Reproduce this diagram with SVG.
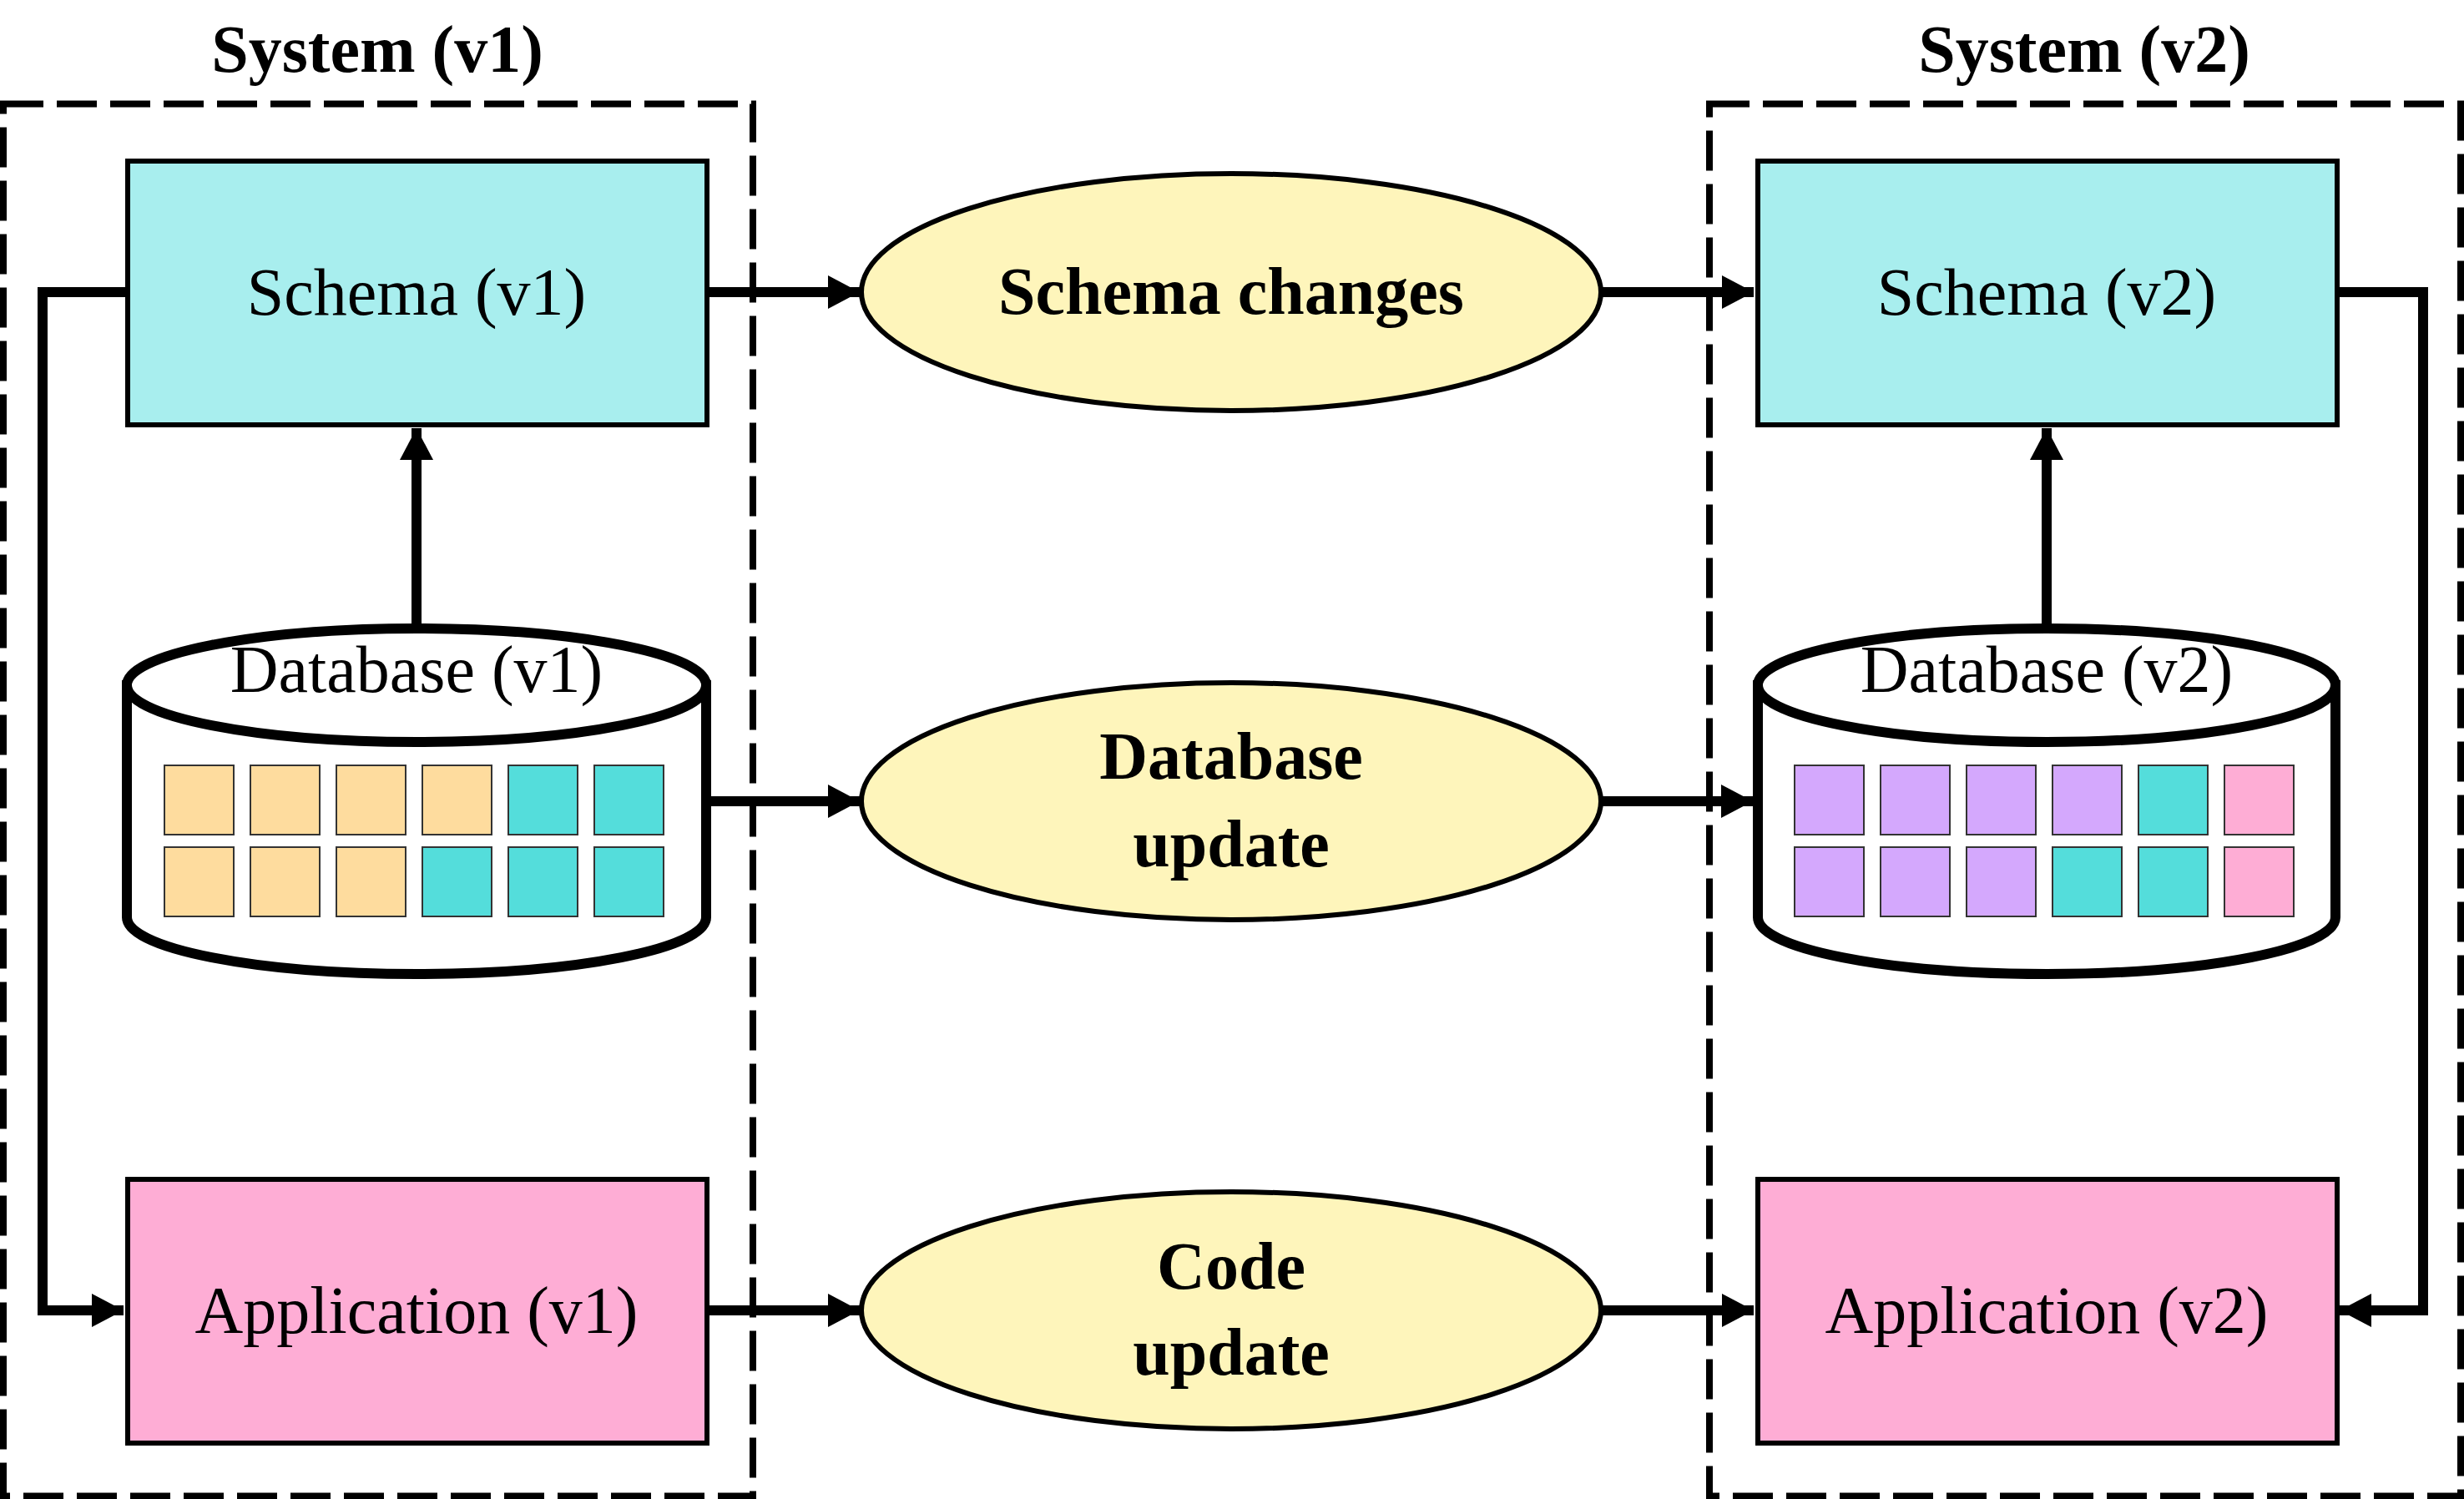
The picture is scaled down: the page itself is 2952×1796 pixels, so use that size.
<svg xmlns="http://www.w3.org/2000/svg" width="2952" height="1796" viewBox="0 0 2952 1796">
<defs>
<marker id="ah" markerUnits="userSpaceOnUse" markerWidth="38" markerHeight="40" viewBox="0 0 38 40" refX="38" refY="20" orient="auto">
<path d="M0,0 L38,20 L0,40 Z" fill="#000"/>
</marker>
</defs>
<style>
.bg{fill:#fff}
.sys{fill:none;stroke:#000;stroke-width:8;stroke-dasharray:48 16}
.title{font-family:"Liberation Serif",serif;font-weight:bold;font-size:80px;text-anchor:middle;fill:#000}
.lbl{font-family:"Liberation Serif",serif;font-size:80px;text-anchor:middle;fill:#000}
.blbl{font-family:"Liberation Serif",serif;font-weight:bold;font-size:80px;text-anchor:middle;fill:#000}
.schema{fill:#A8EEEE;stroke:#000;stroke-width:6}
.app{fill:#FEADD5;stroke:#000;stroke-width:6}
.proc{fill:#FEF5BB;stroke:#000;stroke-width:6}
.cyl{fill:#fff;stroke:#000;stroke-width:12}
.cell{stroke:#333;stroke-width:2}
.o{fill:#FEDC9E}
.t{fill:#54DDDB}
.u{fill:#D4A8FD}
.k{fill:#FEADD5}
.conn{fill:none;stroke:#000;stroke-width:12}
</style>
<rect class="bg" x="0" y="0" width="2952" height="1796"/>

<g id="system-v1">
<rect class="sys" x="4" y="124.5" width="898" height="1668"/>
<text class="title" x="452" y="86">System (v1)</text>
</g>
<g id="system-v2">
<rect class="sys" x="2048" y="124.5" width="900" height="1668"/>
<text class="title" x="2497" y="86">System (v2)</text>
</g>

<g id="connectors">
<path class="conn" d="M848,350 H1030" marker-end="url(#ah)"/>
<path class="conn" d="M1920,350 H2101" marker-end="url(#ah)"/>
<path class="conn" d="M850,960 H1030" marker-end="url(#ah)"/>
<path class="conn" d="M1920,960 H2100" marker-end="url(#ah)"/>
<path class="conn" d="M848,1570 H1030" marker-end="url(#ah)"/>
<path class="conn" d="M1920,1570 H2101" marker-end="url(#ah)"/>
<path class="conn" d="M152,350 H51 V1570 H148" marker-end="url(#ah)"/>
<path class="conn" d="M2800,350 H2903 V1570 H2803" marker-end="url(#ah)"/>
<path class="conn" d="M499,750 V513" marker-end="url(#ah)"/>
<path class="conn" d="M2452,750 V513" marker-end="url(#ah)"/>
</g>

<g id="schema-v1">
<rect class="schema" x="153" y="193" width="694" height="316"/>
<text class="lbl" x="499" y="377">Schema (v1)</text>
</g>
<g id="schema-v2">
<rect class="schema" x="2106" y="193" width="694" height="316"/>
<text class="lbl" x="2452" y="377">Schema (v2)</text>
</g>

<g id="database-v1">
<path class="cyl" d="M152,821 V1099 A347,68 0 0 0 846,1099 V821 Z"/>
<ellipse class="cyl" cx="499" cy="821" rx="347" ry="68"/>
<text class="lbl" x="499" y="829">Database (v1)</text>
<rect class="cell o" x="197" y="917" width="83" height="83"/>
<rect class="cell o" x="300" y="917" width="83" height="83"/>
<rect class="cell o" x="403" y="917" width="83" height="83"/>
<rect class="cell o" x="506" y="917" width="83" height="83"/>
<rect class="cell t" x="609" y="917" width="83" height="83"/>
<rect class="cell t" x="712" y="917" width="83" height="83"/>
<rect class="cell o" x="197" y="1015" width="83" height="83"/>
<rect class="cell o" x="300" y="1015" width="83" height="83"/>
<rect class="cell o" x="403" y="1015" width="83" height="83"/>
<rect class="cell t" x="506" y="1015" width="83" height="83"/>
<rect class="cell t" x="609" y="1015" width="83" height="83"/>
<rect class="cell t" x="712" y="1015" width="83" height="83"/>
</g>
<g id="database-v2">
<path class="cyl" d="M2106,821 V1099 A346,68 0 0 0 2798,1099 V821 Z"/>
<ellipse class="cyl" cx="2452" cy="821" rx="346" ry="68"/>
<text class="lbl" x="2452" y="829">Database (v2)</text>
<rect class="cell u" x="2150" y="917" width="83" height="83"/>
<rect class="cell u" x="2253" y="917" width="83" height="83"/>
<rect class="cell u" x="2356" y="917" width="83" height="83"/>
<rect class="cell u" x="2459" y="917" width="83" height="83"/>
<rect class="cell t" x="2562" y="917" width="83" height="83"/>
<rect class="cell k" x="2665" y="917" width="83" height="83"/>
<rect class="cell u" x="2150" y="1015" width="83" height="83"/>
<rect class="cell u" x="2253" y="1015" width="83" height="83"/>
<rect class="cell u" x="2356" y="1015" width="83" height="83"/>
<rect class="cell t" x="2459" y="1015" width="83" height="83"/>
<rect class="cell t" x="2562" y="1015" width="83" height="83"/>
<rect class="cell k" x="2665" y="1015" width="83" height="83"/>
</g>

<g id="application-v1">
<rect class="app" x="153" y="1413" width="694" height="316"/>
<text class="lbl" x="499" y="1597">Application (v1)</text>
</g>
<g id="application-v2">
<rect class="app" x="2106" y="1413" width="694" height="316"/>
<text class="lbl" x="2452" y="1597">Application (v2)</text>
</g>

<g id="schema-changes">
<ellipse class="proc" cx="1475" cy="350" rx="443" ry="142"/>
<text class="blbl" x="1475" y="376">Schema changes</text>
</g>
<g id="database-update">
<ellipse class="proc" cx="1475" cy="960" rx="443" ry="142"/>
<text class="blbl" x="1475" y="933">Database</text>
<text class="blbl" x="1475" y="1038">update</text>
</g>
<g id="code-update">
<ellipse class="proc" cx="1475" cy="1570" rx="443" ry="142"/>
<text class="blbl" x="1475" y="1544">Code</text>
<text class="blbl" x="1475" y="1647">update</text>
</g>
</svg>
